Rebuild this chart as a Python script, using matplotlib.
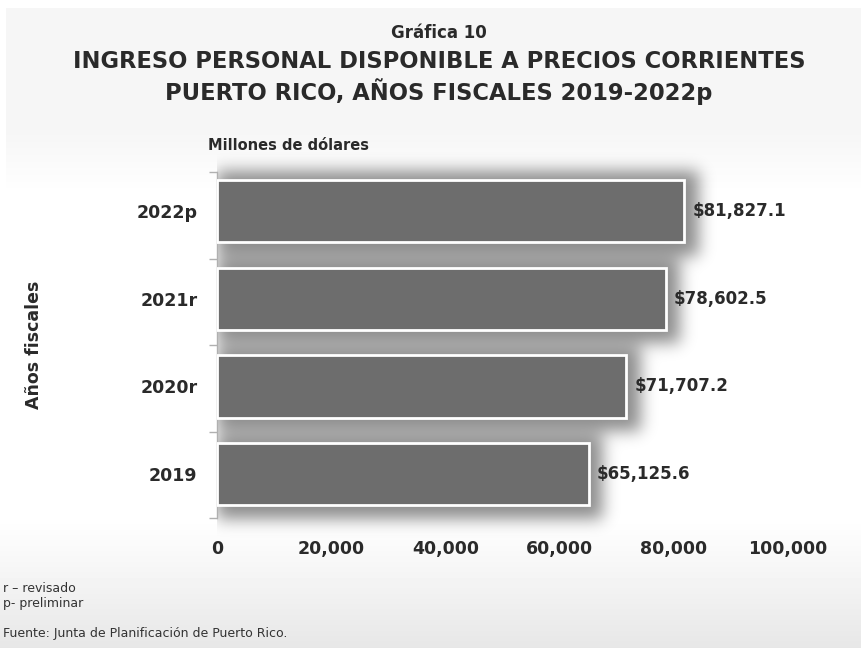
import numpy as np
import matplotlib
matplotlib.use('Agg')
import matplotlib.pyplot as plt

# data
years = ['2019', '2020r', '2021r', '2022p']
income = [65125.6, 71707.2, 78602.5, 81827.1]
xticks = [0, 20000, 40000, 60000, 80000, 100000]
xtick_labels = ['0', '20,000', '40,000', '60,000', '80,000', '100,000']

W, H = 861, 648
TXT = '#2a2a2a'
fig = plt.figure(figsize=(W / 100, H / 100), dpi=100)

# background: light gray on top (with a thin white frame), white middle, gray bottom
bg = fig.add_axes([0, 0, 1, 1], zorder=-10)
rows = np.arange(H)[:, None] / H
shade = np.ones((H, W))
shade = np.where(rows < 0.20, 0.962, shade)
mix = np.clip((rows - 0.20) / 0.10, 0, 1)
shade = np.where((rows >= 0.20) & (rows < 0.30), 0.962 + 0.038 * mix, shade)
low = np.clip((rows - 0.80) / 0.20, 0, 1)
shade = np.where(rows >= 0.80, 1.0 - 0.095 * low, shade)
shade[:8, :] = 1.0
shade[:200, :6] = 1.0
bg.imshow(shade, cmap='gray', vmin=0, vmax=1, aspect='auto', extent=[0, 1, 0, 1],
          interpolation='bilinear')
bg.set_axis_off()

ax_left, ax_right, ax_top, ax_bot = 217, 788, 172, 518
ax = fig.add_axes([ax_left / W, 1 - ax_bot / H, (ax_right - ax_left) / W, (ax_bot - ax_top) / H])
ax.set_facecolor('none')

ypos = np.arange(len(years))
bar_h = 0.71
ymin, ymax = -0.50, 3.445
xpx = 100000 / (ax_right - ax_left)          # data units per pixel (x)
ypx = (ymax - ymin) / (ax_bot - ax_top)      # data units per pixel (y)


def blur(a, sigma):
    r = int(3 * sigma)
    k = np.exp(-0.5 * (np.arange(-r, r + 1) / sigma) ** 2)
    k /= k.sum()
    a = np.apply_along_axis(lambda m: np.convolve(m, k, mode='same'), 0, a)
    a = np.apply_along_axis(lambda m: np.convolve(m, k, mode='same'), 1, a)
    return a


# soft shadow behind the bars, built in pixel space then placed in data coords
pad = 50
gw, gh = (ax_right - ax_left) + pad, (ax_bot - ax_top) + 2 * pad
mask = np.zeros((gh, gw))
for y, v in zip(ypos, income):
    x1 = int(v / xpx) + 14
    y_top = int((ymax - (y + bar_h / 2)) / ypx) + pad - 8
    y_bot = int((ymax - (y - bar_h / 2)) / ypx) + pad + 14
    mask[y_top:y_bot, 0:x1] = 1.0
sh = blur(mask, 8.0)
rgba = np.zeros((gh, gw, 4))
rgba[..., 3] = 0.45 * sh
ax.imshow(rgba, extent=[0, gw * xpx, ymax - (gh - pad) * ypx, ymax + pad * ypx],
          aspect='auto', zorder=1, clip_on=False, interpolation='bilinear')

ax.barh(ypos, income, height=bar_h, color='#6d6d6d', edgecolor='white', linewidth=2, zorder=3)

for y, v in zip(ypos, income):
    ax.text(v + 1400, y, f'${v:,.1f}', va='center', ha='left', fontsize=12,
            fontweight='bold', color=TXT, zorder=4)

ax.set_xlim(0, 100000)
ax.set_ylim(ymin, ymax)
ax.set_xticks(xticks)
ax.set_xticklabels(xtick_labels, fontsize=12.5, fontweight='bold', color=TXT)
ax.set_yticks(ypos)
ax.set_yticklabels(years, fontsize=12.5, fontweight='bold', color=TXT)
ax.set_yticks(np.linspace(ymin, ymax, 5), minor=True)
ax.tick_params(axis='x', length=0, pad=16)
ax.tick_params(axis='y', which='major', length=0, pad=14)
ax.tick_params(axis='y', which='minor', length=6, color='#b0b0b0', width=1)
for s in ['top', 'right', 'bottom']:
    ax.spines[s].set_visible(False)
ax.spines['left'].set_color('#b0b0b0')
ax.spines['left'].set_linewidth(1)

ax.set_ylabel('Años fiscales', fontsize=12.5, fontweight='bold', color=TXT)
ax.yaxis.set_label_coords(-174 / (ax_right - ax_left), 0.5)

fig.text(208 / W, 1 - 145 / H, 'Millones de dólares', fontsize=10.5, fontweight='bold',
         color=TXT, va='center', ha='left')

cx = 439 / W
fig.text(cx, 1 - 33 / H, 'Gráfica 10', fontsize=12, fontweight='bold', color=TXT,
         ha='center', va='center')
fig.text(cx, 1 - 62 / H, 'INGRESO PERSONAL DISPONIBLE A PRECIOS CORRIENTES', fontsize=16.3,
         fontweight='bold', color=TXT, ha='center', va='center')
fig.text(cx, 1 - 92 / H, 'PUERTO RICO, AÑOS FISCALES 2019-2022p', fontsize=16.3,
         fontweight='bold', color=TXT, ha='center', va='center')

fig.text(3 / W, 1 - 588 / H, 'r – revisado', fontsize=9, color='#333333', va='center')
fig.text(3 / W, 1 - 604 / H, 'p- preliminar', fontsize=9, color='#333333', va='center')
fig.text(3 / W, 1 - 634 / H, 'Fuente: Junta de Planificación de Puerto Rico.', fontsize=9,
         color='#333333', va='center')

fig.savefig('out.png', dpi=100)
